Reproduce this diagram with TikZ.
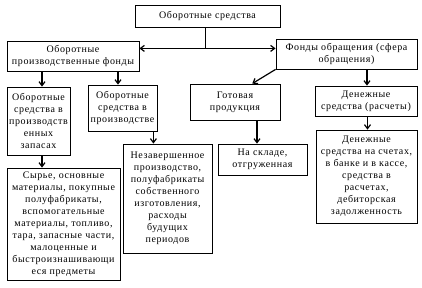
\documentclass[tikz,border=0pt]{standalone}
\usepackage{fontspec}
\setmainfont[LetterSpace=6]{Liberation Serif}
\usetikzlibrary{arrows.meta, positioning, calc}

\begin{document}
\begin{tikzpicture}[
    x=1pt, y=-1pt,
    box/.style={
        rectangle,
        draw=black,
        line width=0.8pt,
        align=center,
        inner sep=1pt,
        font=\fontsize{10}{12}\selectfont
    },
    flow/.style={
        -{Straight Barb[length=4pt, width=6pt]},
        line width=1.2pt
    }
]
    \useasboundingbox (0,0) rectangle (422,288);

    % Top level
    \node[box, minimum width=145, minimum height=22] (os) at (207.5,16) {Оборотные средства};

    % Second level
    \node[box, minimum width=132, minimum height=30] (opf) at (73,56) {
        Оборотные\\производственные фонды};
    \node[box, minimum width=141, minimum height=30] (fo) at (346.5,54) {
        Фонды обращения (сфера\\обращения)};

    % Third level
    \node[box, minimum width=63, minimum height=68] (zap) at (38.5,121) {
        Оборотные\\средства в\\производств\\енных\\запасах};
    \node[box, minimum width=69, minimum height=46] (proizv) at (122.5,108) {
        Оборотные\\средства в\\производстве};
    \node[box, minimum width=90, minimum height=36] (gp) at (235,102) {
        Готовая\\продукция};
    \node[box, minimum width=102, minimum height=30] (den) at (366,101) {
        Денежные\\средства (расчеты)};

    % Bottom level
    \node[box, minimum width=113, minimum height=112] (syr) at (63.5,224) {
        Сырье, основные\\материалы, покупные\\полуфабрикаты,\\вспомогательные\\материалы, топливо,\\тара, запасные части,\\малоценные и\\быстроизнашивающи\\еся предметы};
    \node[box, minimum width=89, minimum height=109] (nez) at (167.5,198.5) {
        Незавершенное\\производство,\\полуфабрикаты\\собственного\\изготовления,\\расходы\\будущих\\периодов};
    \node[box, minimum width=89, minimum height=31] (sklad) at (262.5,159.5) {
        На складе,\\отгруженная};
    \node[box, minimum width=101, minimum height=93] (dsch) at (366.5,176.5) {
        Денежные\\средства на счетах,\\в банке и в кассе,\\средства в\\расчетах,\\дебиторская\\задолженность};

    % Connectors
    \coordinate (split) at ($(os.south)+(-2.5,21)$);
    \draw[line width=1pt] ([xshift=-2.5]os.south) -- (split);
    \draw[flow] (split) -- (split -| opf.east);
    \draw[flow] (split) -- (split -| fo.west);

    \draw[flow] ([xshift=3.5]zap.north |- opf.south) -- ([xshift=3.5]zap.north);
    \draw[flow] ([xshift=-4.5]proizv.north |- opf.south) -- ([xshift=-4.5]proizv.north);
    \draw[flow] (fo.south west) -- ($(gp.north)!0.38!(gp.north east)$);
    \draw[flow] ([xshift=1]den.north |- fo.south) -- ([xshift=1]den.north);

    \draw[flow] ([xshift=3.5]zap.south) -- ([xshift=3.5]zap.south |- syr.north);
    \draw[flow] ([xshift=-4]proizv.south east) -- ([xshift=-4]proizv.south east |- nez.north);
    \draw[flow] ([xshift=-5.5]sklad.north |- gp.south) -- ([xshift=-5.5]sklad.north);
    \draw[flow] ([xshift=1.5]den.south) -- ([xshift=1.5]den.south |- dsch.north);
\end{tikzpicture}
\end{document}
